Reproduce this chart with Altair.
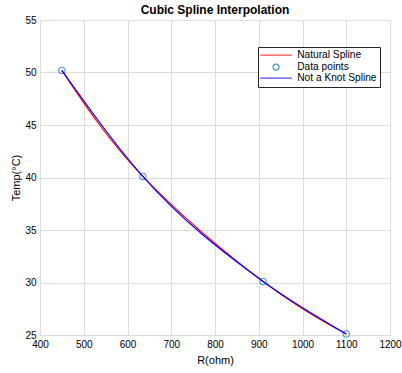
import altair as alt
import pandas as pd

# data points (resistance in ohm, temperature in °C)
r_ohm = [450, 635, 910, 1100]
temp_c = [50.2, 40.1, 30.1, 25.1]

series_names = ["Natural Spline", "Data points", "Not a Knot Spline"]
series_colors = ["#ff0000", "#0072bd", "#0000ff"]
line_shape = "M-5.3,0H5.3"
series_shapes = [line_shape, "circle", line_shape]

x_ticks = [400, 500, 600, 700, 800, 900, 1000, 1100, 1200]
y_ticks = [25, 30, 35, 40, 45, 50, 55]

rows = []
for name in series_names:
    for r, t in zip(r_ohm, temp_c):
        rows.append({"R": r, "T": t, "series": name})
df = pd.DataFrame(rows)

xs = alt.Scale(domain=[400, 1200], nice=False, zero=False)
ys = alt.Scale(domain=[25, 55], nice=False, zero=False)
xax = alt.Axis(values=x_ticks, title="R(ohm)", grid=True, ticks=False, domain=False,
               format="d", labelFlush=False, labelPadding=4, titlePadding=5,
               titleFontWeight=400)
yax = alt.Axis(values=y_ticks, title="Temp(°C)", grid=True, ticks=False, domain=False,
               format="d", labelPadding=4, titlePadding=3, titleFontWeight=400)
cscale = alt.Scale(domain=series_names, range=series_colors)
sscale = alt.Scale(domain=series_names, range=series_shapes)

leg = alt.Legend(orient="none", legendX=218, legendY=27,
                 title=None, fillColor="white",
                 strokeColor="#262626", padding=3,
                 symbolSize=36, symbolStrokeWidth=1.3,
                 symbolOffset=10, labelOffset=16,
                 rowPadding=0, labelFontSize=10.2,
                 labelFont="Liberation Sans",
                 labelColor="#000000")

base = alt.Chart(df)

natural = base.transform_filter(alt.datum.series == "Natural Spline").mark_line(
    interpolate="natural", strokeWidth=1.1
).encode(
    x=alt.X("R:Q", scale=xs, axis=xax),
    y=alt.Y("T:Q", scale=ys, axis=yax),
    color=alt.Color("series:N", scale=cscale, title=None, legend=leg),
)

points = base.transform_filter(alt.datum.series == "Data points").mark_point(
    filled=False, size=40, strokeWidth=1.1
).encode(
    x=alt.X("R:Q", scale=xs),
    y=alt.Y("T:Q", scale=ys),
    color=alt.Color("series:N", scale=cscale, title=None, legend=leg),
    shape=alt.Shape("series:N", scale=sscale, title=None, legend=leg),
)

notaknot = base.transform_filter(alt.datum.series == "Not a Knot Spline").mark_line(
    interpolate="monotone", strokeWidth=1.1
).encode(
    x=alt.X("R:Q", scale=xs),
    y=alt.Y("T:Q", scale=ys),
    color=alt.Color("series:N", scale=cscale, title=None, legend=leg),
)

chart = alt.layer(natural, points, notaknot).properties(
    width=350, height=315,
    title=alt.TitleParams("Cubic Spline Interpolation", fontSize=12, fontWeight="bold",
                          font="Liberation Sans", color="#000000", offset=-2),
    autosize=alt.AutoSizeParams(type="none"),
    padding={"left": 40, "top": 20, "right": 12, "bottom": 38},
).configure_view(
    stroke="#262626", strokeWidth=1
).configure_axis(
    labelFont="Liberation Sans", titleFont="Liberation Sans",
    labelFontSize=11, titleFontSize=13,
    labelColor="#262626", titleColor="#262626",
    gridColor="#e6e6e6", gridWidth=1,
).configure(background="white")

chart.save("out.html", embed_options={"renderer": "svg", "actions": False})
